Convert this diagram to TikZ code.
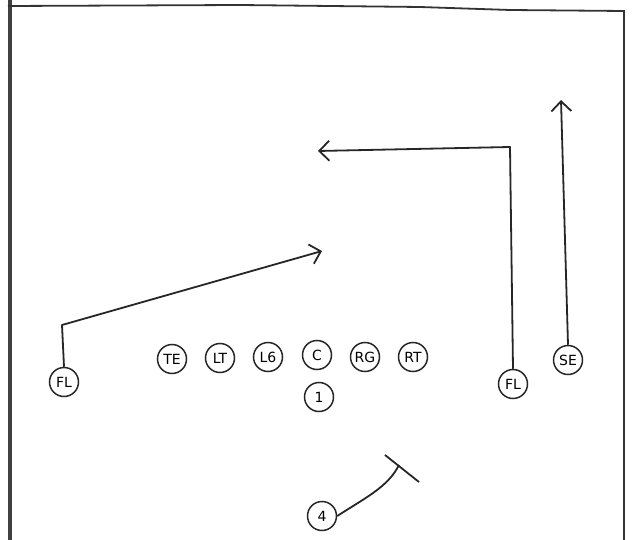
\documentclass[tikz,border=0pt]{standalone}
\usepackage{fontspec}
\setmainfont{DejaVu Sans}
\usetikzlibrary{arrows.meta}
\begin{document}
\begin{tikzpicture}[x=1pt,y=-1pt,
  player/.style={draw=black!85,circle,line width=1.5pt,minimum size=29pt,inner sep=0pt,font=\fontsize{14}{14}\selectfont},
  route/.style={draw=black!85,line width=1.8pt,line join=round},
  head/.style={-{Straight Barb[length=10pt,width=20pt,line width=1.8pt]}},
  border/.style={draw=black!80,line width=1.8pt}]
\useasboundingbox (0,0) rectangle (637,540);
% page border
\draw[border,line width=4pt,draw=black!75] (10,0) -- (10,540);
\draw[border] (8,6) -- (240,5) -- (420,7) -- (510,10) -- (624,11) -- (624,540);
% line
\node[player] (te) at (172,359) {TE};
\node[player] (lt) at (220,358) {LT};
\node[player] (lg) at (268,357) {L6};
\node[player] (c)  at (317,355) {C};
\node[player] (rg) at (365,357) {RG};
\node[player] (rt) at (413,357) {RT};
\node[player] (qb) at (319,397) {1};
\node[player] (fll) at (64,382) {FL};
\node[player] (flr) at (513,384) {FL};
\node[player] (se) at (568,360) {SE};
\node[player] (rb) at (322,516) {4};
% routes
\coordinate (fllc) at (62,325);
\coordinate (flle) at (322,251);
\draw[route,head] (fll.north) -- (fllc) -- (flle);
\coordinate (flrc) at (510,147);
\coordinate (flre) at (318,151);
\draw[route,head] (flr.north) -- (flrc) -- (flre);
\coordinate (see) at (561,100);
\draw[route,head] (se.north) -- (see);
\coordinate (rbe) at (399,465);
\coordinate (blka) at (385,455);
\coordinate (blkb) at (419,482);
\draw[route] (rb.east) .. controls (365,498) and (388,487) .. (rbe);
\draw[route] (blka) -- (blkb);
\end{tikzpicture}
\end{document}
